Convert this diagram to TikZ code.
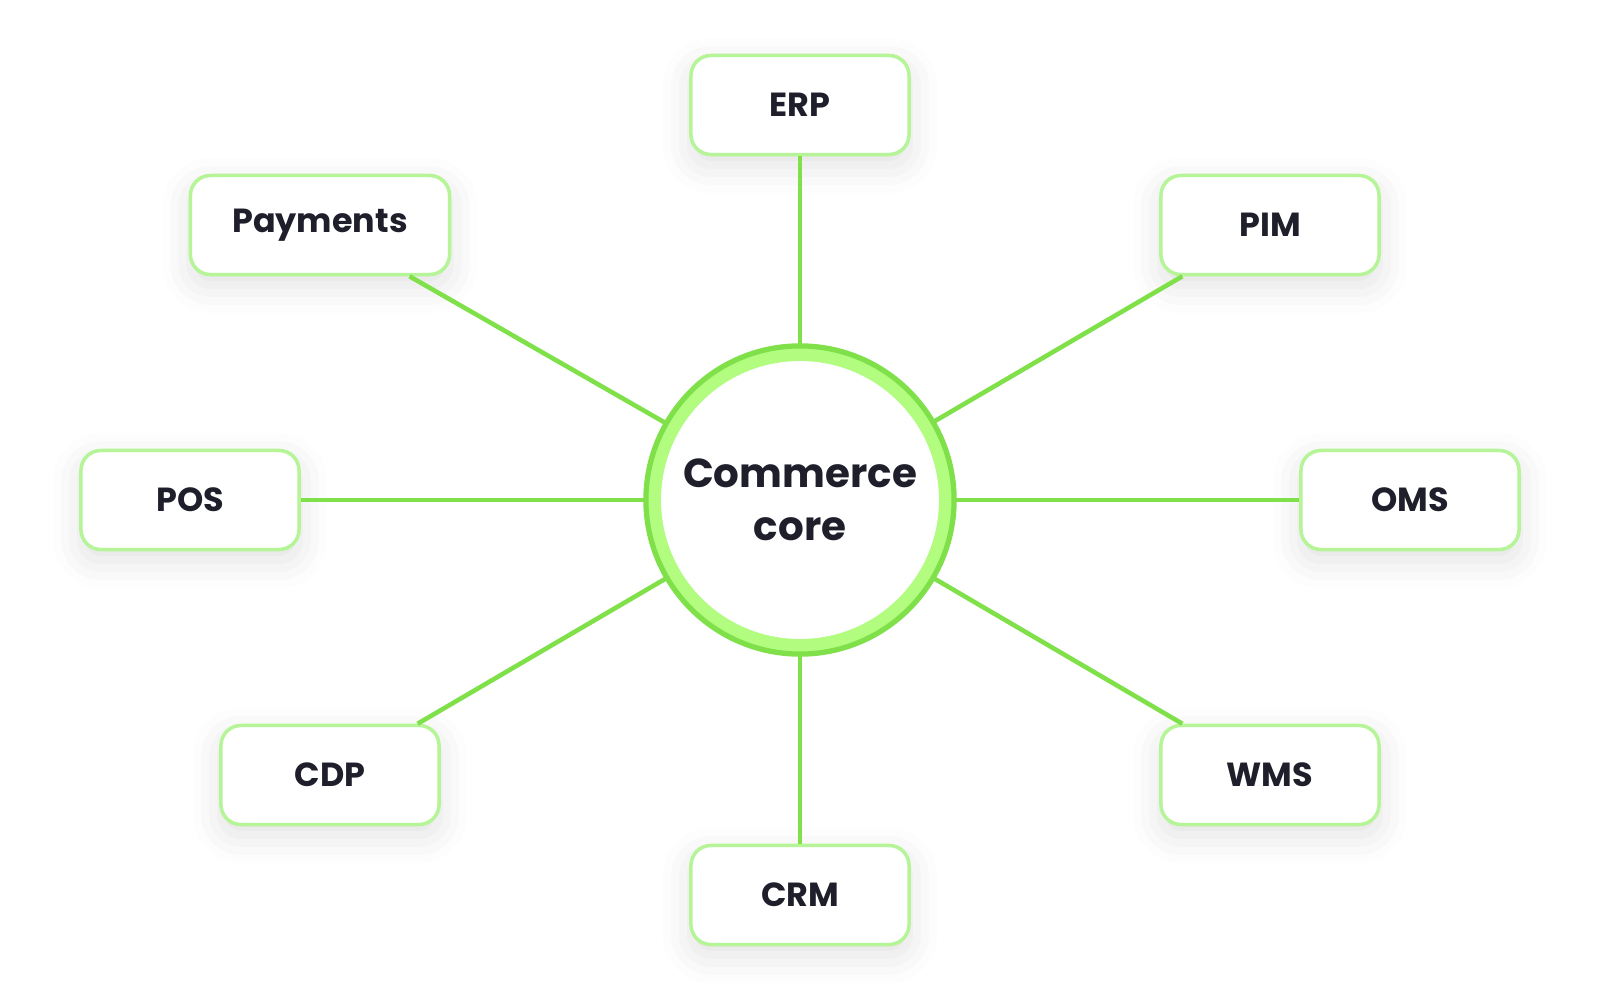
\documentclass[tikz,border=0pt]{standalone}
\usepackage{fontspec}
\setmainfont{Poppins}
\usetikzlibrary{shadows.blur}
\definecolor{ring}{HTML}{B2FC80}
\definecolor{ringb}{HTML}{7FE04A}
\definecolor{boxb}{HTML}{B5F598}
\definecolor{txt}{HTML}{1E1F2B}
\begin{document}
\begin{tikzpicture}[x=0.01cm,y=-0.01cm,
  box/.style={draw=boxb,line width=1pt,fill=white,rounded corners=0.2cm,minimum width=2.18cm,minimum height=0.99cm,
    font=\fontsize{9.5pt}{11pt}\selectfont\bfseries,text=txt,blur shadow={shadow xshift=0pt,shadow yshift=-3pt,shadow blur radius=8pt,shadow opacity=12}},
  link/.style={draw=ringb,line width=1.3pt}]
\useasboundingbox (0,0) rectangle (1600,1000);
\node[box] (erp) at (800,105) {ERP};
\node[box,minimum width=2.59cm] (pay) at (320,225) {Payments};
\node[box] (pim) at (1270,225) {PIM};
\node[box] (pos) at (190,500) {POS};
\node[box] (oms) at (1410,500) {OMS};
\node[box] (cdp) at (330,775) {CDP};
\node[box] (wms) at (1270,775) {WMS};
\node[box] (crm) at (800,895) {CRM};
\coordinate (c) at (800,500);
\begin{scope}[on background layer/.try]
\end{scope}
\foreach \n in {erp,pay,pim,pos,oms,cdp,wms,crm}{\draw[link] (c) -- (\n);}
\node[circle,draw=ringb,line width=1.5pt,fill=ring,minimum size=3.08cm] (core) at (c) {};
\node[circle,fill=white,minimum size=2.54cm,align=center,text=txt,
  font=\fontsize{11.5pt}{15pt}\selectfont\bfseries] (corein) at (c) {Commerce\\core};
\end{tikzpicture}
\end{document}
